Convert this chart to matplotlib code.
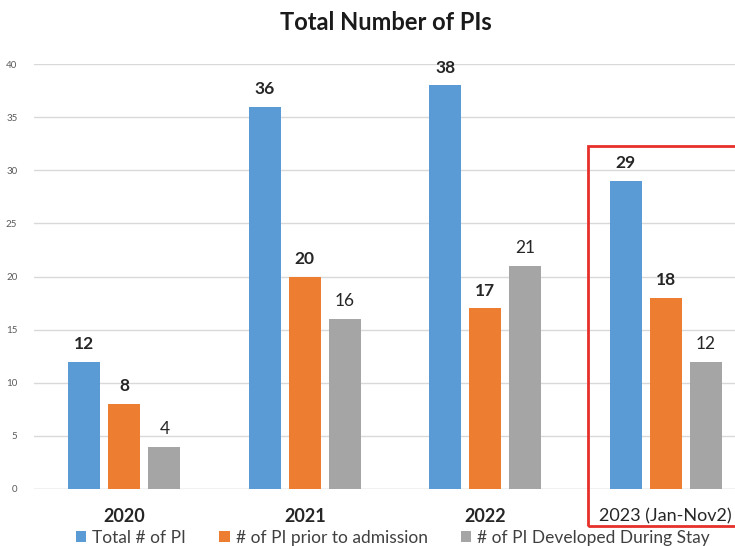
import matplotlib
matplotlib.use("Agg")
import matplotlib.pyplot as plt
from matplotlib.patches import Rectangle
import numpy as np

plt.rcParams['font.family'] = ['Lato', 'DejaVu Sans']

categories = ["2020", "2021", "2022", "2023 (Jan-Nov2)"]
series_names = ["Total # of PI", "# of PI prior to admission", "# of PI Developed During Stay"]
total = [12, 36, 38, 29]
prior = [8, 20, 17, 18]
during = [4, 16, 21, 12]
colors = ["#5B9BD5", "#ED7D31", "#A5A5A5"]

W, H = 735, 546
fig = plt.figure(figsize=(W/100, H/100), dpi=100)
ax = fig.add_axes([34/W, (H-489)/H, 1-34/W, (489-64)/H])

x = np.arange(len(categories))
bw = 32/180
off = 40/180
series = [total, prior, during]
label_weights = ["bold", "bold", "normal"]
bars_all = []
for i, (vals, name, c) in enumerate(zip(series, series_names, colors)):
    bars = ax.bar(x + (i-1)*off, vals, width=bw, color=c, label=name, zorder=3)
    bars_all.append(bars)
    for b, v in zip(bars, vals):
        ax.text(b.get_x()+b.get_width()/2, v + 0.9, str(v), ha='center', va='bottom',
                fontsize=12.5, fontweight=label_weights[i], color='#262626')

ax.set_ylim(0, 40)
ax.set_xlim(-0.5, 3.5 - (756-735)/180)
ax.set_yticks(range(0, 41, 5))
ax.yaxis.grid(True, color='#D9D9D9', linewidth=1, zorder=0)
ax.tick_params(axis='y', length=0, labelsize=7, labelcolor='#595959', pad=12)
ax.set_xticks(x)
ax.set_xticklabels(categories, fontsize=13)
for lbl, w in zip(ax.get_xticklabels(), ["bold", "bold", "bold", "normal"]):
    lbl.set_fontweight(w)
    lbl.set_color('#262626')
ax.tick_params(axis='x', length=0, pad=14)
for s in ax.spines.values():
    s.set_visible(False)
ax.axhline(0, color='#D9D9D9', linewidth=1, zorder=2)

fig.text(386/W, (H-22)/H, "Total Number of PIs", ha='center', va='center',
         fontsize=17, fontweight='bold', color='#1a1a1a')

leg = fig.legend(handles=bars_all, labels=series_names, loc='center',
                 bbox_to_anchor=(393/W, (H-538)/H), ncol=3, frameon=False,
                 fontsize=12.5, handlelength=0.6, handleheight=0.6, handletextpad=0.35,
                 columnspacing=1.9, labelcolor='#404040')

rect = Rectangle((588/W, (H-526)/H), 0.3, (526-146)/H, transform=fig.transFigure,
                 fill=False, edgecolor='#E8302A', linewidth=2, clip_on=False)
fig.patches.append(rect)

fig.savefig("out.png", dpi=100)
